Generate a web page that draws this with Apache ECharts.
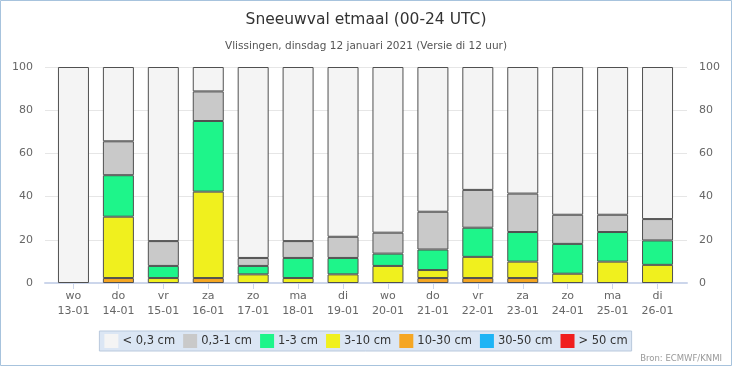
<!DOCTYPE html>
<html>
<head>
<meta charset="utf-8">
<script src="https://cdn.jsdelivr.net/npm/echarts@6/dist/echarts.min.js"></script>
<style>
html,body{margin:0;padding:0;background:#fff;}
#c{width:732px;height:366px;}
</style>
</head>
<body>
<div id="c"></div>
<script>
const days = ['wo','do','vr','za','zo','ma','di','wo','do','vr','za','zo','ma','di'];
const dates = ['13-01','14-01','15-01','16-01','17-01','18-01','19-01','20-01','21-01','22-01','23-01','24-01','25-01','26-01'];
const yTicks = [0,20,40,60,80,100];
const sLight  = [100,34.4,80.6,11.3,88.4,80.6,78.6,76.7,67.0,56.9,58.6,68.4,68.4,70.4];
const sGray   = [0,15.7,11.5,13.7,3.7,7.8,9.8,9.7,17.5,17.5,17.8,13.5,8.0,9.9];
const sGreen  = [0,19.2,5.6,32.7,3.9,9.3,7.6,5.7,9.5,13.5,13.7,13.8,13.7,11.3];
const sYellow = [0,28.4,2.3,40.0,4.0,2.3,4.0,7.9,3.7,9.8,7.6,4.3,9.9,8.4];
const sOrange = [0,2.3,0,2.3,0,0,0,0,2.3,2.3,2.3,0,0,0];
const sBlue   = [0,0,0,0,0,0,0,0,0,0,0,0,0,0];
const sRed    = [0,0,0,0,0,0,0,0,0,0,0,0,0,0];
const classNames = ['< 0,3 cm','0,3-1 cm','1-3 cm','3-10 cm','10-30 cm','30-50 cm','> 50 cm'];

const colors = {
  '< 0,3 cm':'#f4f4f4','0,3-1 cm':'#c9c9c9','1-3 cm':'#1ef58a','3-10 cm':'#f0f01e',
  '10-30 cm':'#f5a623','30-50 cm':'#1eb4f5','> 50 cm':'#f01e1e'
};
const dataByName = {
  '< 0,3 cm':sLight,'0,3-1 cm':sGray,'1-3 cm':sGreen,'3-10 cm':sYellow,
  '10-30 cm':sOrange,'30-50 cm':sBlue,'> 50 cm':sRed
};
const stackOrder = ['> 50 cm','30-50 cm','10-30 cm','3-10 cm','1-3 cm','0,3-1 cm','< 0,3 cm'];
const FONT = 'DejaVu Sans';

const chart = echarts.init(document.getElementById('c'));
const series = stackOrder.map(n => ({
  name: n, type: 'bar', stack: 'all', xAxisIndex: 1, yAxisIndex: 2,
  barWidth: 31, data: dataByName[n].map(v => v === 0 ? '-' : v),
  itemStyle: {color: colors[n], borderColor: '#505050', borderWidth: 1},
  emphasis: {disabled: true}
}));

chart.setOption({
  animation: false,
  textStyle: {fontFamily: FONT},
  title: [
    {text: 'Sneeuwval etmaal (00-24 UTC)', left: 'center', top: 7,
     textStyle: {fontSize: 15.5, fontWeight: 'normal', color: '#333', fontFamily: FONT}},
    {text: 'Vlissingen, dinsdag 12 januari 2021 (Versie di 12 uur)', left: 'center', top: 36,
     textStyle: {fontSize: 10.5, fontWeight: 'normal', color: '#555', fontFamily: FONT}}
  ],
  grid: [
    {left: 45, right: 45, top: 67, bottom: 83},
    {left: 51, right: 52, top: 67, bottom: 83}
  ],
  xAxis: [
    {type: 'value', gridIndex: 0, min: 0, max: 1, show: true,
     axisLine: {show: true, onZero: false, lineStyle: {color: '#ccd6eb', width: 2}},
     axisTick: {show: false}, axisLabel: {show: false}, splitLine: {show: false}},
    {type: 'category', gridIndex: 1, data: days.map((d,i) => d + '\n' + dates[i]),
     axisLine: {show: false},
     axisTick: {show: true, alignWithLabel: true, length: 6, lineStyle: {color: '#ccd6eb'}},
     axisLabel: {color: '#666', fontSize: 11, lineHeight: 15, margin: 6, fontFamily: FONT}}
  ],
  yAxis: [
    {type: 'value', gridIndex: 0, min: 0, max: 100, interval: 20, position: 'left',
     axisLine: {show: false}, axisTick: {show: false},
     axisLabel: {color: '#666', fontSize: 11, margin: 12, fontFamily: FONT},
     splitLine: {lineStyle: {color: '#e6e6e6'}}},
    {type: 'value', gridIndex: 0, min: 0, max: 100, interval: 20, position: 'right',
     axisLine: {show: false}, axisTick: {show: false},
     axisLabel: {color: '#666', fontSize: 11, margin: 12, fontFamily: FONT},
     splitLine: {show: false}},
    {type: 'value', gridIndex: 1, min: 0, max: 100, interval: 20, show: false}
  ],
  legend: {
    data: classNames, left: 'center', top: 331, orient: 'horizontal',
    itemWidth: 14, itemHeight: 14, itemGap: 8,
    icon: 'rect',
    backgroundColor: '#dbe6f4', borderColor: '#b9c9dd', borderWidth: 1,
    padding: [3, 4, 3, 5],
    itemStyle: {borderWidth: 0},
    textStyle: {fontSize: 11.5, color: '#333', fontFamily: FONT, padding: [0,0,0,-1]},
    selectedMode: false
  },
  graphic: [
    {type: 'rect', shape: {x: 0.5, y: 0.5, width: 731, height: 365},
     style: {fill: 'none', stroke: '#a7c3dd', lineWidth: 1}, silent: true},
    {type: 'text', right: 10, top: 354,
     style: {text: 'Bron: ECMWF/KNMI', fill: '#999', fontSize: 8.5, fontFamily: FONT}}
  ],
  series: series
});
</script>
</body>
</html>
